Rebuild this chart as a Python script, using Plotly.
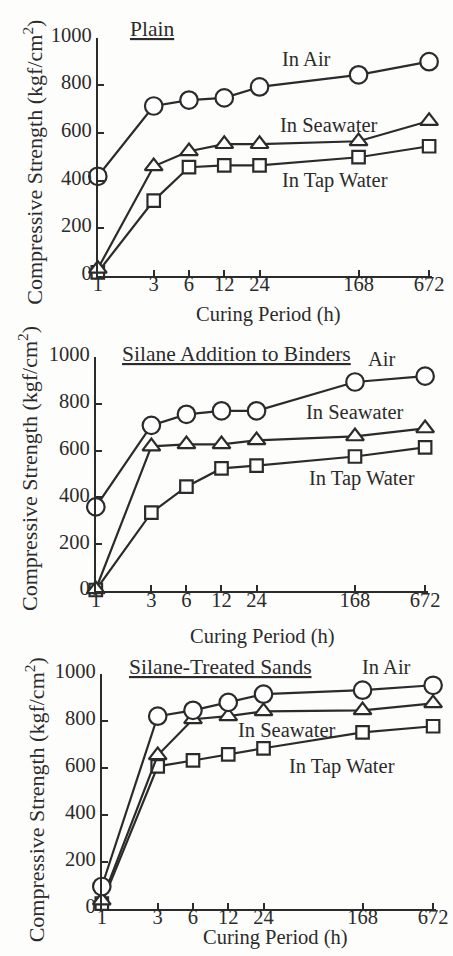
import math
import plotly.graph_objects as go

W, H = 453, 956

hours = [1, 3, 6, 12, 24, 168, 672]
tick_labels = ["1", "3", "6", "12", "24", "168", "672"]
y_ticks = [0, 200, 400, 600, 800, 1000]

# Panel 1: Plain
plain_air = [418, 713, 738, 747, 793, 844, 899]
plain_sea = [30, 460, 523, 553, 553, 565, 650]
plain_tap = [15, 316, 456, 464, 464, 498, 544]

# Panel 2: Silane Addition to Binders
binder_air = [360, 708, 755, 770, 770, 893, 918]
binder_sea = [8, 618, 627, 627, 644, 661, 695]
binder_tap = [5, 335, 446, 524, 536, 575, 614]

# Panel 3: Silane-Treated Sands
sands_air = [94, 821, 846, 880, 915, 932, 953]
sands_sea = [34, 654, 808, 821, 842, 846, 876]
sands_tap = [21, 607, 632, 658, 684, 752, 778]

FONT = "Liberation Serif"
INK = "#2b2b2b"

# measured relation between figure pixels and photographed pixels
AX, BX = 0.9645, 4.0
AY, BY = 0.976, 10.4

def fx(s):
    return ((s - BX) / AX) / W

def fy(s):
    return 1 - ((s - BY) / AY) / H

LOGMAX = math.log10(672)

# screen positions: (x at 1, x at 672, axis end), (y at 1000, y at 0)
panels = [
    dict(air=plain_air, sea=plain_sea, tap=plain_tap, x=(97, 429, 432), y=(34, 272)),
    dict(air=binder_air, sea=binder_sea, tap=binder_tap, x=(95, 425, 428), y=(353, 587)),
    dict(air=sands_air, sea=sands_sea, tap=sands_tap, x=(101, 433, 436), y=(670, 904)),
]

fig = go.Figure()
layout = {}
for i, p in enumerate(panels):
    n = "" if i == 0 else str(i + 1)
    xa, ya = "x" + n, "y" + n
    for key, sym, size in [("tap", "square", 12.5), ("sea", "triangle-up", 15.5), ("air", "circle", 17.5)]:
        fig.add_trace(go.Scatter(
            x=hours, y=p[key], xaxis=xa, yaxis=ya, mode="lines+markers",
            line=dict(color=INK, width=2.2),
            marker=dict(symbol=sym, size=size, color="white",
                        line=dict(color=INK, width=2.2)),
            cliponaxis=False, showlegend=False, hoverinfo="skip"))
    x0, x672, xend = p["x"]
    xr = LOGMAX * (xend - x0) / (x672 - x0)
    layout["xaxis" + n] = dict(
        type="log", domain=[fx(x0), fx(xend)], range=[0, xr],
        anchor=ya, tickvals=hours, ticktext=tick_labels, ticks="inside",
        ticklen=6, tickwidth=1.5, tickcolor=INK, showline=True, linewidth=2,
        linecolor=INK, showgrid=False, zeroline=False, ticklabelstandoff=-11,
        tickfont=dict(family=FONT, size=20.5, color=INK))
    layout["yaxis" + n] = dict(
        domain=[fy(p["y"][1]), fy(p["y"][0])], range=[0, 1000],
        anchor=xa, tickvals=y_ticks, ticks="inside", ticklen=6, tickwidth=1.5,
        tickcolor=INK, showline=True, linewidth=2, linecolor=INK,
        showgrid=False, zeroline=False, ticklabelshift=-3,
        tickfont=dict(family=FONT, size=20.5, color=INK))

def ann(text, sx, sy, size=20.5, angle=0):
    return dict(text=text, x=fx(sx), y=fy(sy), xref="paper", yref="paper",
                xanchor="center", yanchor="middle", showarrow=False,
                textangle=angle, font=dict(family=FONT, size=size, color=INK))

ytitle = "Compressive Strength (kgf/cm<sup>2</sup>)"
annotations = [
    ann("<u>Plain</u>", 151, 25, 21.5),
    ann("In Air", 306, 55),
    ann("In Seawater", 328, 121),
    ann("In Tap Water", 335, 177),
    ann("Curing Period (h)", 268, 311),
    ann(ytitle, 32, 158, 22, -90),

    ann("<u>Silane Addition to Binders</u>", 236, 350, 21.5),
    ann("Air", 382, 355),
    ann("In Seawater", 354, 408),
    ann("In Tap Water", 362, 474),
    ann("Curing Period (h)", 262, 632),
    ann(ytitle, 27, 464, 22, -90),

    ann("<u>Silane-Treated Sands</u>", 220, 663, 21.5),
    ann("In Air", 386, 663),
    ann("In Seawater", 286, 726),
    ann("In Tap Water", 342, 762),
    ann("Curing Period (h)", 275, 933),
    ann(ytitle, 34, 795, 22, -90),
]

fig.update_layout(
    width=W, height=H, margin=dict(l=0, r=0, t=0, b=0),
    paper_bgcolor="#fdfdfc", plot_bgcolor="rgba(0,0,0,0)",
    annotations=annotations, **layout)

fig.write_html("out.html")
